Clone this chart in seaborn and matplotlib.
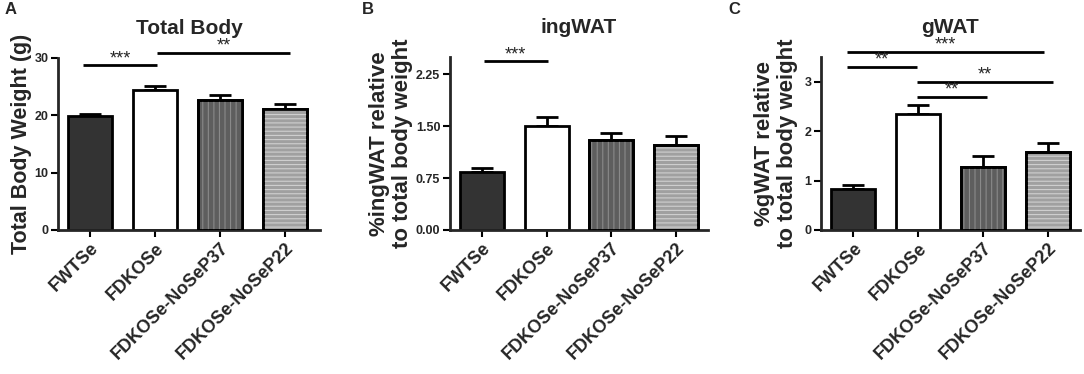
import numpy as np
import pandas as pd
import matplotlib
matplotlib.use("Agg")
import matplotlib.pyplot as plt
import matplotlib.transforms as mtrans
from matplotlib.patches import Rectangle
import seaborn as sns

groups = ["FWTSe", "FDKOSe", "FDKOSe-NoSeP37", "FDKOSe-NoSeP22"]

total_mean = [19.9, 24.5, 22.7, 21.1]
total_sem = [0.3, 0.7, 0.9, 0.8]
ing_mean = [0.84, 1.51, 1.30, 1.23]
ing_sem = [0.05, 0.12, 0.10, 0.13]
g_mean = [0.83, 2.35, 1.28, 1.57]
g_sem = [0.08, 0.17, 0.21, 0.19]

titles = ["Total Body", "ingWAT", "gWAT"]
ylabels = ["Total Body Weight (g)", "%ingWAT relative\nto total body weight",
           "%gWAT relative\nto total body weight"]
letters = ["A", "B", "C"]
yticks = [[0, 10, 20, 30], [0.00, 0.75, 1.50, 2.25], [0, 1, 2, 3]]
yticklabels = [["0", "10", "20", "30"], ["0.00", "0.75", "1.50", "2.25"], ["0", "1", "2", "3"]]
ylims = [(0, 30), (0, 2.5), (0, 3.5)]

sig_A = [(-0.1, 1.03, 28.7, "***"), (1.03, 3.08, 30.9, "**")]
sig_B = [(0.03, 1.02, 2.44, "***")]
sig_C = [(-0.1, 2.95, 3.6, "***"), (-0.1, 0.98, 3.3, "**"),
         (0.98, 3.08, 3.0, "**"), (0.98, 2.06, 2.69, "**")]

colors = ["#333333", "#ffffff", "#5e5e5e", "#a0a0a0"]
hatches = [None, None, "|||", "----"]
hatch_colors = [None, None, "#8a8a8a", "#d0d0d0"]

sns.set_style("ticks")
plt.rcParams["font.family"] = ["Liberation Sans", "DejaVu Sans"]
plt.rcParams["font.weight"] = "bold"
plt.rcParams["hatch.linewidth"] = 0.8

fig = plt.figure(figsize=(10.84, 3.74), dpi=100)
positions = [
    [58 / 1084, 1 - 230 / 374, (320 - 58) / 1084, (230 - 58) / 374],
    [450 / 1084, 1 - 230 / 374, (708 - 450) / 1084, (230 - 57) / 374],
    [821 / 1084, 1 - 230 / 374, (1080 - 821) / 1084, (230 - 57) / 374],
]
xlims = [(-0.49, 3.54), (-0.49, 3.49), (-0.5, 3.5)]
means = [total_mean, ing_mean, g_mean]
sems = [total_sem, ing_sem, g_sem]
sigs = [sig_A, sig_B, sig_C]
letter_x = [5, 362, 728]
label_x = [-0.099, -0.143, -0.089]
label_fs = [15.5, 16, 16]

for i in range(3):
    ax = fig.add_axes(positions[i])
    df = pd.DataFrame({"group": groups, "value": means[i]})
    sns.barplot(data=df, x="group", y="value", hue="group", palette=colors,
                order=groups, hue_order=groups, legend=False, errorbar=None,
                width=0.68, edgecolor="black", linewidth=2, ax=ax, zorder=2)
    for j, p in enumerate(ax.patches):
        if hatches[j]:
            ov = Rectangle((p.get_x(), p.get_y()), p.get_width(), p.get_height(),
                           fill=False, hatch=hatches[j], edgecolor=hatch_colors[j],
                           linewidth=0, zorder=3)
            ax.add_patch(ov)
            out = Rectangle((p.get_x(), p.get_y()), p.get_width(), p.get_height(),
                            fill=False, edgecolor="black", linewidth=2, zorder=4)
            ax.add_patch(out)
    xs = np.arange(len(groups))
    ax.errorbar(xs, means[i], yerr=[np.zeros(4), sems[i]], fmt="none",
                ecolor="black", elinewidth=2, capsize=8, capthick=2, zorder=1)
    ax.set_xlim(*xlims[i])
    ax.set_ylim(*ylims[i])
    ax.set_yticks(yticks[i])
    ax.set_yticklabels(yticklabels[i], fontsize=9, fontweight="bold")
    ax.set_xticks(xs)
    ax.set_xticklabels(groups, rotation=45, ha="right", rotation_mode="anchor",
                       fontsize=13, fontweight="bold")
    off = mtrans.ScaledTranslation(-4 / 100, -3 / 100, fig.dpi_scale_trans)
    for t in ax.get_xticklabels():
        t.set_transform(t.get_transform() + off)
    ax.set_xlabel("")
    ax.set_ylabel(ylabels[i], fontsize=label_fs[i], fontweight="bold", linespacing=1.12)
    ax.yaxis.set_label_coords(label_x[i], 0.5)
    ax.set_title(titles[i], fontsize=15, fontweight="bold", pad=17)
    for s in ["top", "right"]:
        ax.spines[s].set_visible(False)
    for s in ["left", "bottom"]:
        ax.spines[s].set_linewidth(2)
    ax.tick_params(axis="both", width=1.5, length=5, color="black", pad=2)
    for (x1, x2, y, lab) in sigs[i]:
        ax.plot([x1, x2], [y, y], color="black", lw=2, clip_on=False,
                solid_capstyle="butt")
        ax.annotate(lab, ((x1 + x2) / 2, y), xytext=(0, 1.5), textcoords="offset points",
                    ha="center", va="baseline", fontsize=13, fontweight="normal",
                    annotation_clip=False)
    fig.text(letter_x[i] / 1084, 1 - 10 / 374, letters[i], fontsize=12,
             fontweight="bold", va="center", ha="left")

fig.savefig("out.png", dpi=100)
